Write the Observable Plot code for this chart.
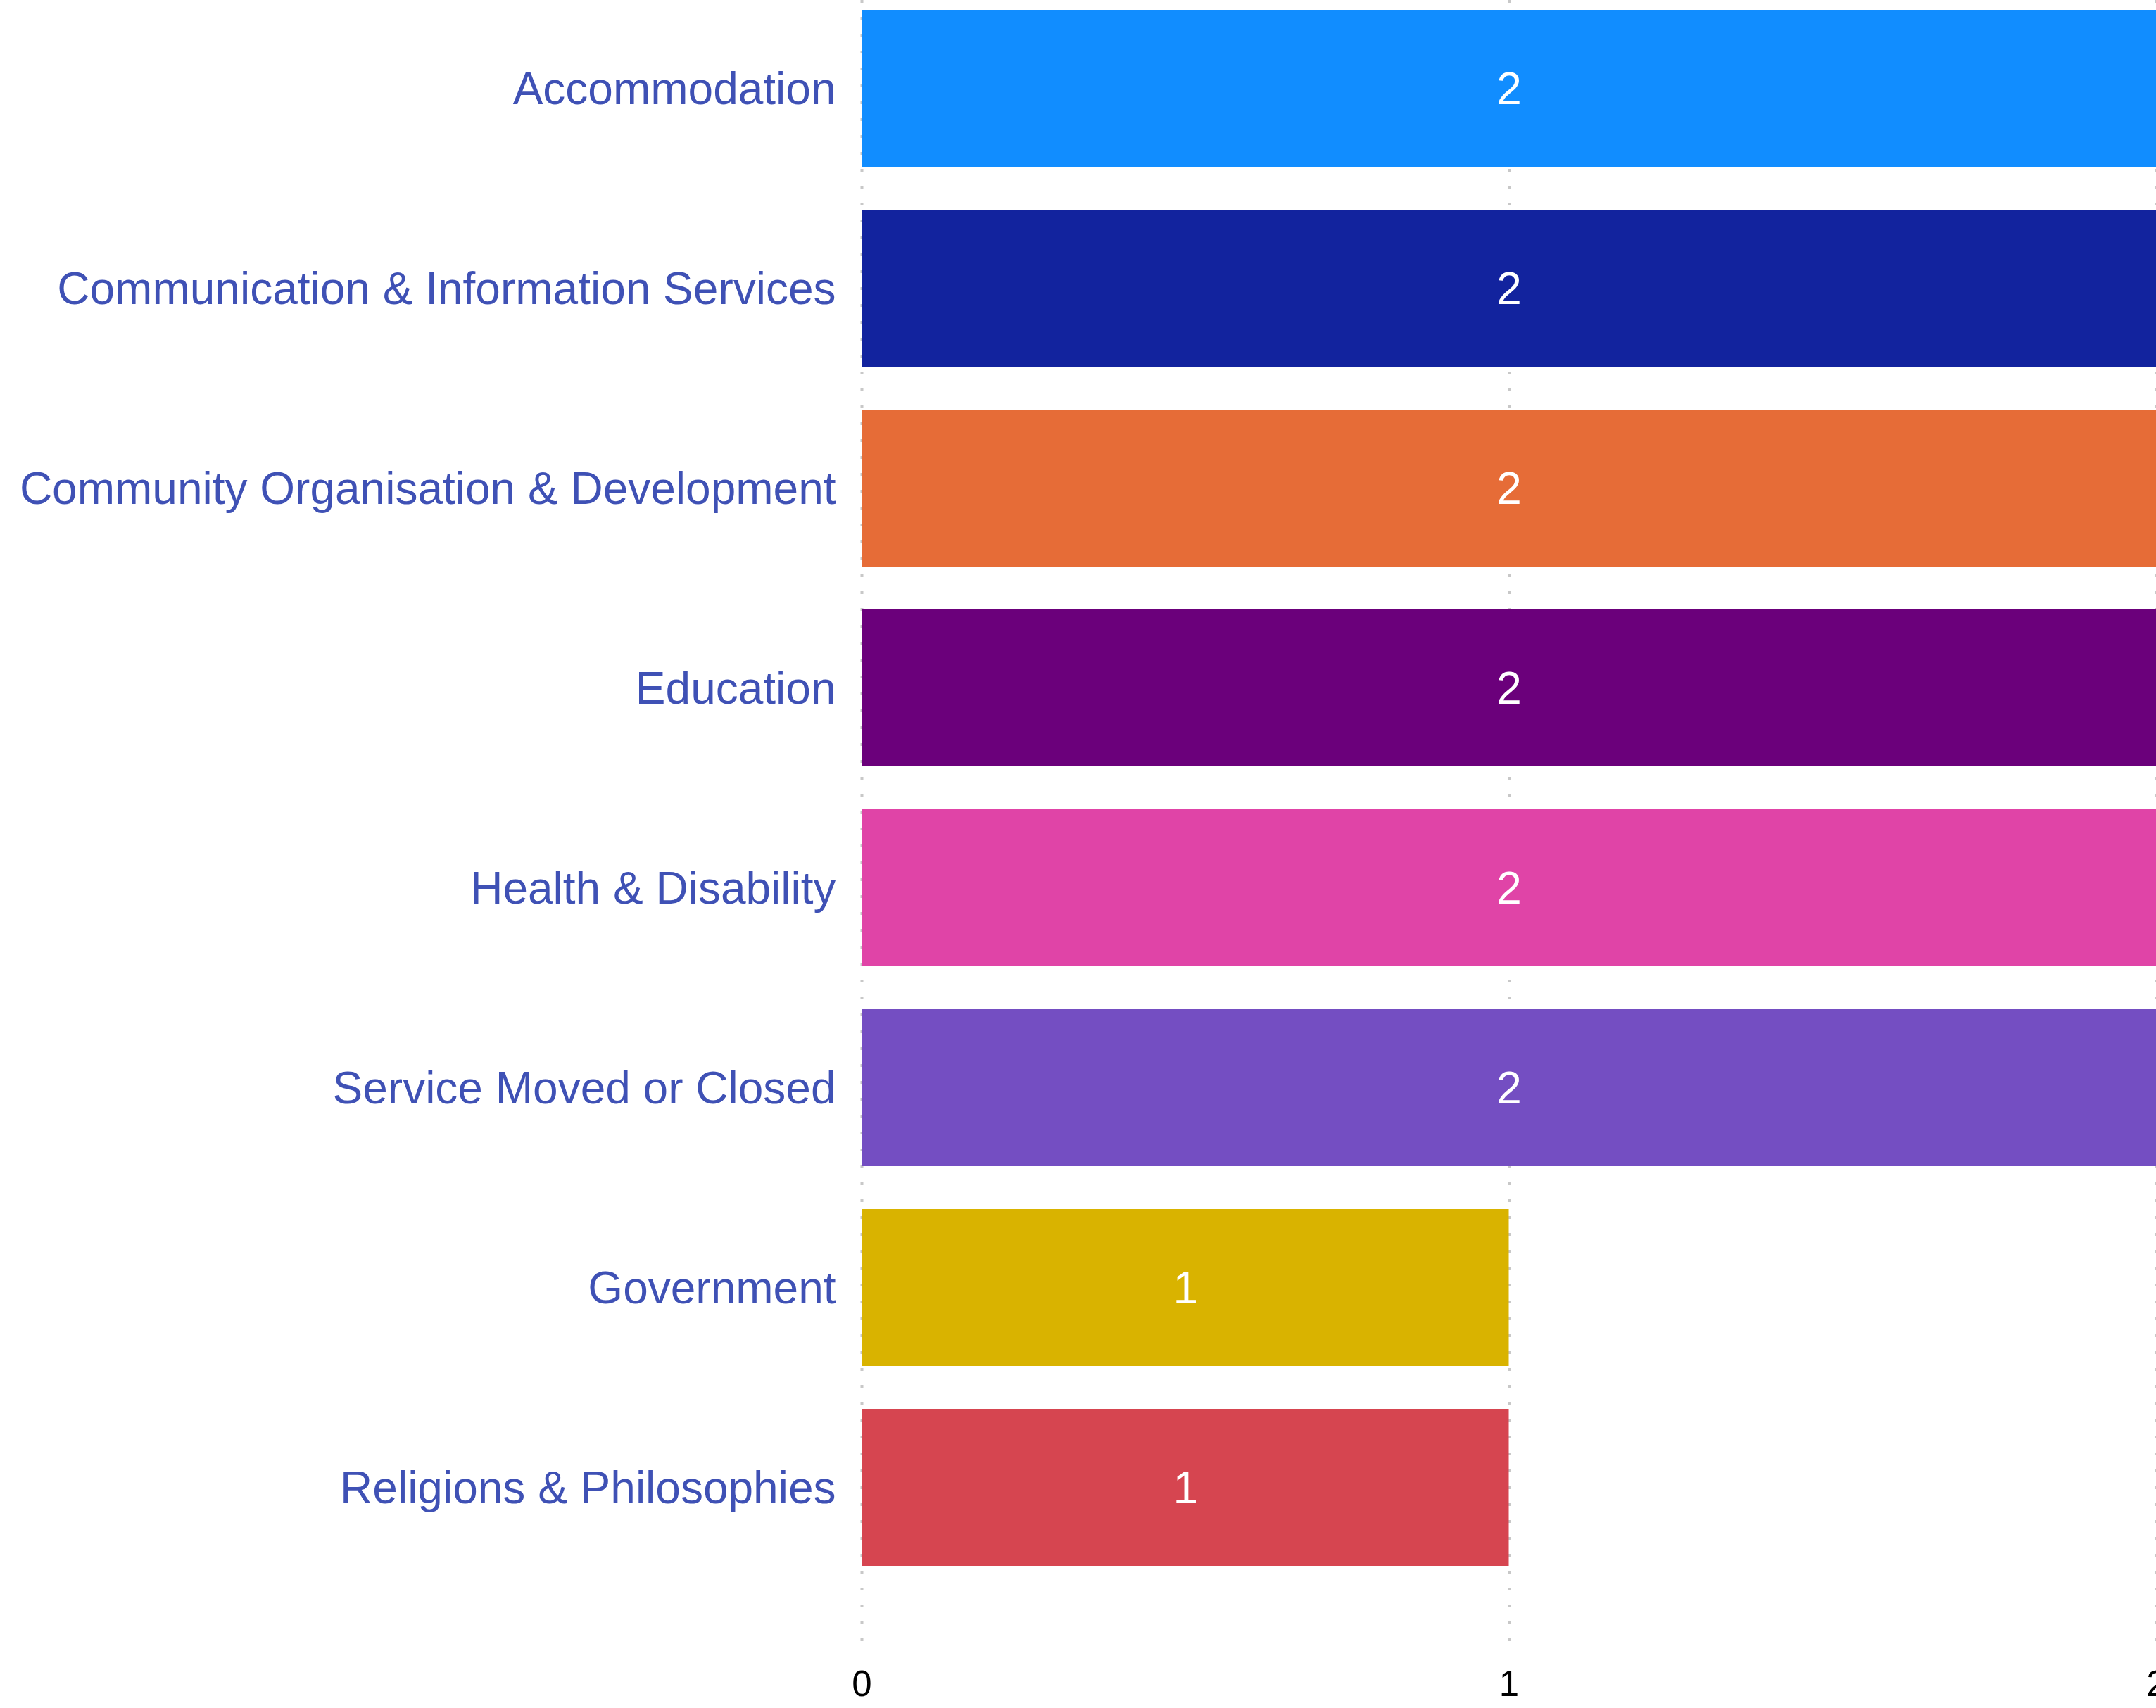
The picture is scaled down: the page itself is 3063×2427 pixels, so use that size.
<!DOCTYPE html>
<html><head><meta charset="utf-8">
<script src="https://cdn.jsdelivr.net/npm/d3@7"></script>
<script src="https://cdn.jsdelivr.net/npm/@observablehq/plot@0.6"></script>
<style>html,body{margin:0;padding:0;background:#fff;overflow:hidden}#chart svg{display:block}</style>
</head><body><div id="chart"></div>
<script>
const categories = [
  "Accommodation",
  "Communication & Information Services",
  "Community Organisation & Development",
  "Education",
  "Health & Disability",
  "Service Moved or Closed",
  "Government",
  "Religions & Philosophies"
];
const values = [2, 2, 2, 2, 2, 2, 1, 1];
const colors = ["#118DFF", "#12239E", "#E66C37", "#6B007B", "#E044A7", "#744EC2", "#D9B300", "#D64550"];
const xTicks = [0, 1, 2];

const data = categories.map((c, i) => ({category: c, value: values[i], color: colors[i]}));

const chart = Plot.plot({
  width: 3063,
  height: 2427,
  marginLeft: 1224,
  marginRight: 0,
  marginTop: 0,
  marginBottom: 82,
  style: {fontFamily: "'Liberation Sans', Arial, sans-serif", background: "#fff", overflow: "visible"},
  x: {domain: [0, 2], axis: null},
  y: {domain: categories, range: [0, 2239], paddingInner: 0.216, paddingOuter: 0.042, axis: null},
  marks: [
    Plot.ruleX(xTicks, {stroke: "#c8c8c8", strokeWidth: 4, strokeDasharray: "4,20"}),
    Plot.barX(data, {x: "value", y: "category", fill: d => d.color}),
    Plot.text(data, {x: d => d.value / 2, y: "category", dy: 2, text: d => String(d.value), fill: "white", fontSize: 64}),
    Plot.axisY({tickSize: 0, tickPadding: 37, fontSize: 64, dy: 2, fill: "#3f51b5", label: null}),
    Plot.axisX({ticks: xTicks, tickSize: 0, tickPadding: 28, fontSize: 51, fill: "black", label: null, tickFormat: d => String(d)})
  ]
});
document.getElementById("chart").appendChild(chart);
</script>
</body></html>
